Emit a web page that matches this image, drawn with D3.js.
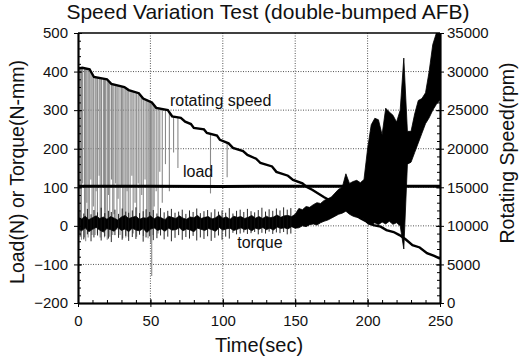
<!DOCTYPE html>
<html>
<head>
<meta charset="utf-8">
<script src="https://cdn.jsdelivr.net/npm/d3@7"></script>
<style>
  body { margin: 0; background: #fff; }
  text { font-family: "Liberation Sans", Arial, sans-serif; fill: #111; }
</style>
</head>
<body>
<div id="chart"></div>
<script>
// speed variation test chart
const W = 526, H = 358;
const margin = { top: 33, right: 86, bottom: 55, left: 78 };

// rotating speed (rpm), right axis
const speedT = [0, 3, 8, 11, 20, 23, 32, 35, 42, 45, 51, 54, 62, 65, 71, 74, 78, 80, 87, 89, 96, 98, 104, 107, 114, 117, 123, 126, 134, 137, 145, 148.5, 155, 158, 162, 170, 177, 183, 190, 195, 204, 209, 213, 218, 222, 226, 231, 236, 241, 246, 250];
const speedRpm = [30400, 30500, 30300, 29300, 29000, 28400, 28000, 27600, 27200, 26500, 26000, 25300, 25000, 24200, 24000, 23500, 23200, 22700, 22500, 22050, 21700, 21150, 20700, 20100, 19700, 19200, 18700, 18150, 17700, 17000, 16500, 15950, 15500, 15050, 14650, 13700, 13000, 12450, 11700, 11000, 10100, 9900, 9450, 9200, 8800, 8300, 7500, 7200, 6450, 6100, 5750];

// speed signal dropouts (time, lowest rpm reached)
const dropT = [0.8, 1.6, 2.4, 3.2, 4.5, 5.3, 6.1, 7.0, 7.8, 8.9, 9.7, 10.6, 11.8, 12.5, 13.4, 14.6, 15.3, 16.2, 17.5, 18.3, 19.1, 20.2, 21.0, 21.9, 23.1, 24.0, 24.8, 26.0, 26.9, 27.7, 29.0, 30.1, 30.9, 31.8, 33.0, 33.9, 34.7, 36.0, 37.2, 38.1, 39.4, 40.5, 41.6, 42.8, 44.0, 45.1, 46.3, 47.5, 48.4, 49.2, 50.1, 50.9, 51.8, 52.6, 54.0, 55.3, 56.5, 58.2, 60.4, 63.1, 66.0, 69.0, 91.5, 103];
const dropLow = [9000, 12000, 8200, 15500, 8500, 8000, 13000, 8500, 9500, 16000, 8800, 12500, 8800, 14500, 9000, 16500, 8500, 11000, 15000, 8500, 9800, 8200, 14000, 8600, 16000, 8800, 11500, 15500, 9500, 13500, 8800, 15000, 8400, 10500, 8500, 14500, 8600, 11000, 16500, 9000, 13000, 8600, 15500, 10000, 14000, 8700, 16000, 11000, 8400, 9500, 7800, 3500, 8800, 12500, 14500, 9000, 17000, 13000, 18000, 14500, 19500, 17500, 14200, 16300];

// load (N)
const loadT = [0, 50, 100, 150, 200, 250];
const loadN = [103, 103, 102, 103, 103, 103];

// torque (N-mm) core band, upper and lower
const torqueT = [0, 2.5, 5, 7.5, 10, 12.5, 15, 17.5, 20, 22.5, 25, 27.5, 30, 32.5, 35, 37.5, 40, 42.5, 45, 47.5, 50, 52.5, 55, 57.5, 60, 62.5, 65, 67.5, 70, 72.5, 75, 77.5, 80, 82.5, 85, 87.5, 90, 92.5, 95, 97.5, 100, 102.5, 105, 107.5, 110, 112.5, 115, 117.5, 120, 122.5, 125, 127.5, 130, 132.5, 135, 137.5, 140, 142.5, 145, 147.5, 150, 152.5, 155, 157.5, 160, 162.5, 165, 167.5, 170, 172.5, 175, 177.5, 180, 182.5, 185, 187.5, 190, 192.5, 195, 197.5, 200, 202.5, 205, 207.5, 210, 212.5, 215, 217.5, 220, 222.5, 225, 227.5, 230, 232.5, 235, 237.5, 240, 242.5, 245, 247.5, 250];
const torqueHi = [22, 18, 25, 16, 21, 26, 19, 23, 17, 24, 20, 15, 23, 27, 19, 22, 25, 17, 21, 20, 26, 18, 24, 21, 16, 25, 22, 19, 26, 20, 17, 23, 21, 27, 19, 22, 24, 18, 21, 28, 20, 23, 17, 25, 22, 24, 19, 22, 27, 20, 24, 19, 25, 21, 23, 28, 22, 26, 27, 24, 30, 45, 42, 50, 48, 55, 60, 58, 66, 70, 75, 85, 95, 100, 135, 110, 115, 118, 112, 120, 200, 262, 279, 275, 236, 305, 295, 287, 269, 300, 435, 245, 245, 290, 325, 330, 345, 400, 470, 500, 500];
const torqueLo = [-8, -13, -5, -15, -9, -4, -11, -16, -7, -10, -14, -4, -12, -8, -15, -6, -11, -13, -7, -17, -9, -5, -12, -8, -14, -6, -11, -10, -5, -13, -8, -11, -15, -6, -9, -12, -7, -10, -14, -4, -11, -8, -6, -12, -9, -5, -10, -7, -13, -6, -9, -4, -10, -6, -11, -3, -7, -5, -8, -2, -6, -5, 0, -2, 3, 5, 2, 8, 12, 15, 20, 25, 30, 33, 38, 30, 25, 22, 20, 18, 5, 2, 8, 3, 10, 5, 12, 4, 8, 0, -60, 160, 165, 190, 215, 240, 265, 280, 300, 315, 326];

// torque noise spikes (time, top, bottom)
const spikeT = [1.5, 4, 6.5, 9, 11, 13.5, 16, 18.5, 21, 23, 25.5, 28, 30.5, 33, 35, 37.5, 40, 42.5, 45, 47, 49.5, 52, 54.5, 57, 59.5, 62, 64.5, 67, 69.5, 72, 74.5, 77, 79.5, 82, 84.5, 87, 89.5, 92, 94.5, 97, 99.5, 102, 104.5, 107, 109.5, 112, 114.5, 117, 119.5, 122, 124.5, 127, 129.5, 132, 134.5, 137, 139.5, 142, 144.5, 147];
const spikeHi = [38, 32, 44, 30, 41, 35, 47, 33, 39, 36, 42, 31, 45, 37, 34, 40, 48, 33, 38, 43, 36, 41, 32, 46, 35, 39, 44, 34, 37, 42, 31, 40, 36, 45, 33, 38, 41, 35, 43, 37, 40, 34, 46, 32, 39, 42, 36, 44, 38, 35, 41, 47, 37, 43, 39, 45, 40, 48, 42, 46];
const spikeLo = [-28, -35, -22, -40, -30, -25, -38, -27, -33, -42, -24, -31, -36, -26, -39, -29, -34, -23, -41, -30, -27, -37, -32, -25, -35, -28, -40, -31, -24, -36, -29, -33, -26, -38, -30, -34, -27, -39, -31, -25, -36, -28, -33, -18, -22, -20, -17, -21, -19, -16, -22, -18, -20, -15, -21, -17, -19, -16, -22, -20];

const xTicks = [0, 50, 100, 150, 200, 250];
const yLeftTicks = [-200, -100, 0, 100, 200, 300, 400, 500];
const yRightTicks = [0, 5000, 10000, 15000, 20000, 25000, 30000, 35000];

const svg = d3.select("#chart").append("svg")
  .attr("width", W)
  .attr("height", H);

const pTop = margin.top, pBottom = H - margin.bottom, pLeft = margin.left, pRight = W - margin.right;

const x = d3.scaleLinear().domain([0, 250]).range([pLeft, pRight]);
const yL = d3.scaleLinear().domain([-200, 500]).range([pBottom, pTop]);
const yR = d3.scaleLinear().domain([0, 35000]).range([pBottom, pTop]);

// grid
const grid = svg.append("g");
grid.selectAll(".gv")
  .data(xTicks.slice(1, -1))
  .join("line")
  .attr("x1", d => x(d)).attr("x2", d => x(d))
  .attr("y1", pTop).attr("y2", pBottom);
grid.selectAll(".gh")
  .data(yLeftTicks.slice(1, -1))
  .join("line")
  .attr("x1", pLeft).attr("x2", pRight)
  .attr("y1", d => yL(d)).attr("y2", d => yL(d));
grid.selectAll("line")
  .attr("stroke", "#555")
  .attr("stroke-width", 1)
  .attr("stroke-dasharray", "1,1.5");

svg.append("clipPath").attr("id", "clip")
  .append("rect").attr("x", pLeft).attr("y", pTop).attr("width", pRight - pLeft).attr("height", pBottom - pTop);
const plot = svg.append("g").attr("clip-path", "url(#clip)");

// speed dropouts
const speedAt = t => {
  const i = Math.max(1, d3.bisectLeft(speedT, t));
  const t0 = speedT[i - 1], t1 = speedT[i];
  return speedRpm[i - 1] + (speedRpm[i] - speedRpm[i - 1]) * (t - t0) / (t1 - t0);
};
plot.selectAll(".drop")
  .data(dropT.map((t, i) => ({ t, low: dropLow[i] })))
  .join("line")
  .attr("x1", d => x(d.t)).attr("x2", d => x(d.t))
  .attr("y1", d => yR(speedAt(d.t))).attr("y2", d => yR(d.low))
  .attr("stroke", "#8a8a8a")
  .attr("stroke-width", 1.1);

// load
plot.append("path")
  .datum(loadT.map((t, i) => ({ t, v: loadN[i] })))
  .attr("fill", "none")
  .attr("stroke", "#000")
  .attr("stroke-width", 3)
  .attr("d", d3.line().x(d => x(d.t)).y(d => yL(d.v)));

// torque
const torque = torqueT.map((t, i) => ({ t, hi: torqueHi[i], lo: torqueLo[i] }));
plot.append("path")
  .datum(torque)
  .attr("fill", "#000")
  .attr("stroke", "#000")
  .attr("stroke-width", 0.8)
  .attr("d", d3.area().x(d => x(d.t)).y0(d => yL(d.lo)).y1(d => yL(d.hi)));

plot.selectAll(".spike")
  .data(spikeT.map((t, i) => ({ t, hi: spikeHi[i], lo: spikeLo[i] })))
  .join("line")
  .attr("x1", d => x(d.t)).attr("x2", d => x(d.t))
  .attr("y1", d => yL(d.hi)).attr("y2", d => yL(d.lo))
  .attr("stroke", "#111")
  .attr("stroke-width", 0.9);

// rotating speed
plot.append("path")
  .datum(speedT.map((t, i) => ({ t, v: speedRpm[i] })))
  .attr("fill", "none")
  .attr("stroke", "#000")
  .attr("stroke-width", 2.4)
  .attr("d", d3.line().x(d => x(d.t)).y(d => yR(d.v)));

// axes
svg.append("g").attr("transform", `translate(0,${pBottom})`)
  .call(d3.axisBottom(x).tickValues(xTicks).tickSize(4).tickPadding(8).tickSizeOuter(0));
svg.append("g").attr("transform", `translate(0,${pBottom})`)
  .call(d3.axisBottom(x).tickValues(xTicks).tickSize(-4).tickFormat("").tickSizeOuter(0));
svg.append("g").attr("transform", `translate(0,${pBottom})`)
  .call(d3.axisBottom(x).tickValues(d3.range(0, 251, 10)).tickSize(-3).tickFormat("").tickSizeOuter(0));

svg.append("g").attr("transform", `translate(${pLeft},0)`)
  .call(d3.axisLeft(yL).tickValues(yLeftTicks).tickSize(4).tickPadding(6).tickSizeOuter(0));
svg.append("g").attr("transform", `translate(${pLeft},0)`)
  .call(d3.axisLeft(yL).tickValues(yLeftTicks).tickSize(-4).tickFormat("").tickSizeOuter(0));
svg.append("g").attr("transform", `translate(${pLeft},0)`)
  .call(d3.axisLeft(yL).tickValues(d3.range(-200, 501, 20)).tickSize(-3).tickFormat("").tickSizeOuter(0));

svg.append("g").attr("transform", `translate(${pRight},0)`)
  .call(d3.axisRight(yR).tickValues(yRightTicks).tickSize(4).tickPadding(3).tickSizeOuter(0).tickFormat(d3.format("d")));
svg.append("g").attr("transform", `translate(${pRight},0)`)
  .call(d3.axisRight(yR).tickValues(yRightTicks).tickSize(-4).tickFormat("").tickSizeOuter(0));
svg.append("g").attr("transform", `translate(${pRight},0)`)
  .call(d3.axisRight(yR).tickValues(d3.range(0, 35001, 1000)).tickSize(-3).tickFormat("").tickSizeOuter(0));

svg.selectAll(".domain").attr("stroke", "#000").attr("stroke-width", 1.5);
svg.selectAll(".tick line").attr("stroke", "#000").attr("stroke-width", 1);
svg.selectAll(".tick text").style("font-size", "15px").style("font-family", "'Liberation Sans', Arial, sans-serif").attr("fill", "#111");

// top frame line
svg.append("line")
  .attr("x1", pLeft).attr("x2", pRight).attr("y1", pTop).attr("y2", pTop)
  .attr("stroke", "#000").attr("stroke-width", 1.5);

// title and axis labels
svg.append("text")
  .attr("x", 268)
  .attr("y", 19)
  .attr("text-anchor", "middle")
  .style("font-size", "21px")
  .text("Speed Variation Test (double-bumped AFB)");

svg.append("text")
  .attr("x", (pLeft + pRight) / 2)
  .attr("y", 352)
  .attr("text-anchor", "middle")
  .style("font-size", "20px")
  .text("Time(sec)");

svg.append("text")
  .attr("transform", `translate(24,${(pTop + pBottom) / 2 + 4}) rotate(-90)`)
  .attr("text-anchor", "middle")
  .style("font-size", "19.5px")
  .text("Load(N) or Torque(N-mm)");

svg.append("text")
  .attr("transform", `translate(514,153) rotate(-90)`)
  .attr("text-anchor", "middle")
  .style("font-size", "19.5px")
  .text("Rotating Speed(rpm)");

// series labels
svg.append("text").attr("x", x(63.5)).attr("y", yL(311)).style("font-size", "16px").text("rotating speed");
svg.append("text").attr("x", x(72.5)).attr("y", yL(127)).style("font-size", "16px").text("load");
svg.append("text").attr("x", x(110)).attr("y", yL(-57)).style("font-size", "16px").text("torque");
</script>
</body>
</html>
